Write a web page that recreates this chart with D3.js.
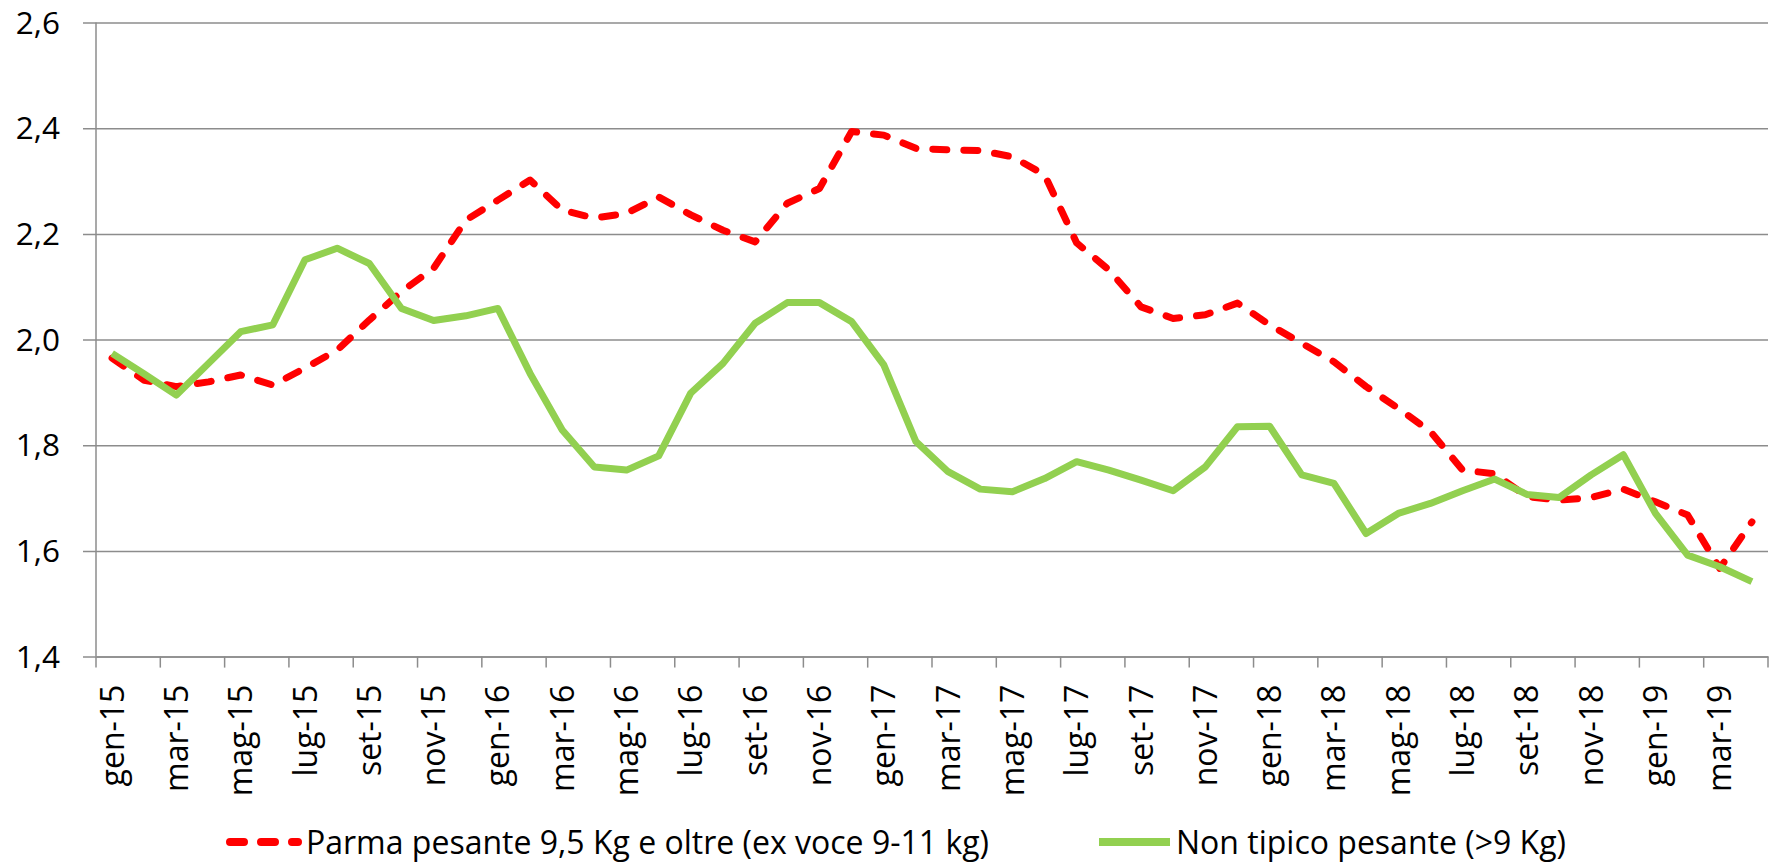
<!DOCTYPE html>
<html>
<head>
<meta charset="utf-8">
<script src="https://cdn.jsdelivr.net/npm/d3@7"></script>
<style>
  body { margin: 0; background: #fff; }
  text { font-family: "Open Sans", Lato, sans-serif; fill: #000; }
</style>
</head>
<body>
<svg id="chart" width="1772" height="866"></svg>
<script>
// Mesi e anni dell'asse delle categorie
const mesi = ["gen", "feb", "mar", "apr", "mag", "giu", "lug", "ago", "set", "ott", "nov", "dic"];
const anni = ["15", "16", "17", "18", "19"];

// Prezzi (euro/kg), da gen-15 ad apr-19
const parmaPesante = [1.965, 1.923, 1.911, 1.920, 1.933, 1.914, 1.946, 1.980, 2.037, 2.091,
  2.135, 2.226, 2.264, 2.302, 2.245, 2.230, 2.239, 2.270, 2.236, 2.207,
  2.185, 2.258, 2.286, 2.394, 2.387, 2.362, 2.359, 2.358, 2.346, 2.312,
  2.183, 2.132, 2.062, 2.040, 2.047, 2.069, 2.028, 1.993, 1.958, 1.911,
  1.870, 1.826, 1.753, 1.746, 1.703, 1.696, 1.701, 1.717, 1.693, 1.668,
  1.567, 1.655];
const nonTipico = [1.974, 1.935, 1.895, 1.955, 2.015, 2.028, 2.151, 2.173, 2.144, 2.059,
  2.036, 2.045, 2.059, 1.936, 1.829, 1.759, 1.753, 1.780, 1.899, 1.955,
  2.031, 2.070, 2.070, 2.034, 1.952, 1.807, 1.750, 1.717, 1.712, 1.737,
  1.769, 1.753, 1.734, 1.714, 1.759, 1.835, 1.836, 1.744, 1.728, 1.633,
  1.671, 1.690, 1.714, 1.736, 1.707, 1.701, 1.744, 1.782, 1.671, 1.592,
  1.570, 1.542];

// Tick dell'asse y
const yTicks = [1.4, 1.6, 1.8, 2.0, 2.2, 2.4, 2.6];

// Nomi delle serie per la legenda
const nomiSerie = ["Parma pesante 9,5 Kg e oltre (ex voce 9-11 kg)", "Non tipico pesante (>9 Kg)"];

// Costruisco le etichette delle categorie
let categorie = [];
anni.forEach(a => mesi.forEach(m => categorie.push(m + "-" + a)));
categorie = categorie.slice(0, parmaPesante.length);

const svg = d3.select("#chart");

const mLeft = 96, mRight = 1768, mTop = 22.6, mBottom = 656.6;

// Scale
const x = d3.scaleBand()
  .domain(categorie)
  .range([mLeft, mRight])
  .padding(0);

const y = d3.scaleLinear()
  .domain([1.4, 2.6])
  .range([mBottom, mTop]);

const it = d3.formatLocale({ decimal: ",", thousands: ".", grouping: [3], currency: ["€", ""] });
const fmt = it.format(".1f");

const grigio = "#8c8c8c";
const dashRosso = "14,17";

// Griglia orizzontale + tick a sinistra
const yAxis = d3.axisLeft(y)
  .tickValues(yTicks)
  .tickSize(-(mRight - mLeft))
  .tickSizeOuter(0)
  .tickFormat(fmt);

const gy = svg.append("g")
  .attr("transform", "translate(" + mLeft + ",0)")
  .call(yAxis);
gy.select(".domain").remove();
gy.selectAll(".tick line")
  .attr("x1", -13)
  .attr("stroke", grigio)
  .attr("stroke-width", 1.5);
gy.selectAll(".tick text")
  .style("font-size", "31.5px")
  .attr("x", -36)
  .attr("dy", "0.34em");

// Linea verticale dell'asse y
svg.append("line")
  .attr("x1", mLeft).attr("x2", mLeft)
  .attr("y1", mTop).attr("y2", mBottom)
  .attr("stroke", grigio)
  .attr("stroke-width", 1.5);

// Asse x: etichette ogni due mesi
const pari = categorie.filter((c, i) => i % 2 === 0);
const xAxis = d3.axisBottom(x)
  .tickValues(pari)
  .tickSize(0)
  .tickSizeOuter(0)
  .tickFormat(d => d);

const gx = svg.append("g")
  .attr("transform", "translate(0," + mBottom + ")")
  .call(xAxis);
gx.select(".domain")
  .attr("stroke", grigio)
  .attr("stroke-width", 1.5);
gx.selectAll(".tick text")
  .style("font-size", "32px")
  .attr("text-anchor", "end")
  .attr("transform", "rotate(-90)")
  .attr("x", -28)
  .attr("y", 0)
  .attr("dy", "0.36em");

// Piccoli tick sotto l'asse, sui confini delle categorie
const confini = pari.map(c => x(c)).concat([mRight]);
svg.append("g").selectAll("line")
  .data(confini)
  .join("line")
  .attr("x1", d => d).attr("x2", d => d)
  .attr("y1", mBottom).attr("y2", mBottom + 11)
  .attr("stroke", grigio)
  .attr("stroke-width", 1.5);

// Linee delle serie
const linea = d3.line()
  .x((d, i) => x(categorie[i]) + x.bandwidth() / 2)
  .y(d => y(d));

svg.append("path")
  .datum(parmaPesante)
  .attr("fill", "none")
  .attr("stroke", "#ff0000")
  .attr("stroke-width", 7)
  .attr("stroke-linecap", "round")
  .attr("stroke-linejoin", "round")
  .attr("stroke-dasharray", dashRosso)
  .attr("d", linea);

svg.append("path")
  .datum(nonTipico)
  .attr("fill", "none")
  .attr("stroke", "#92d050")
  .attr("stroke-width", 7)
  .attr("stroke-linejoin", "round")
  .attr("d", linea);

// Legenda
const legenda = svg.append("g").attr("transform", "translate(0,842)");
const voci = [
  { x: 230, colore: "#ff0000", dash: dashRosso, cap: "round", nome: nomiSerie[0] },
  { x: 1099, colore: "#92d050", dash: null, cap: "butt", nome: nomiSerie[1] }
];
voci.forEach(v => {
  legenda.append("line")
    .attr("x1", v.x).attr("x2", v.x + (v.dash ? 68 : 71))
    .attr("y1", 0).attr("y2", 0)
    .attr("stroke", v.colore)
    .attr("stroke-width", 8)
    .attr("stroke-linecap", v.cap)
    .attr("stroke-dasharray", v.dash);
  legenda.append("text")
    .attr("x", v.dash ? 306 : v.x + 77)
    .attr("y", 0)
    .attr("dy", "0.36em")
    .style("font-size", "32px")
    .text(v.nome);
});
</script>
</body>
</html>
